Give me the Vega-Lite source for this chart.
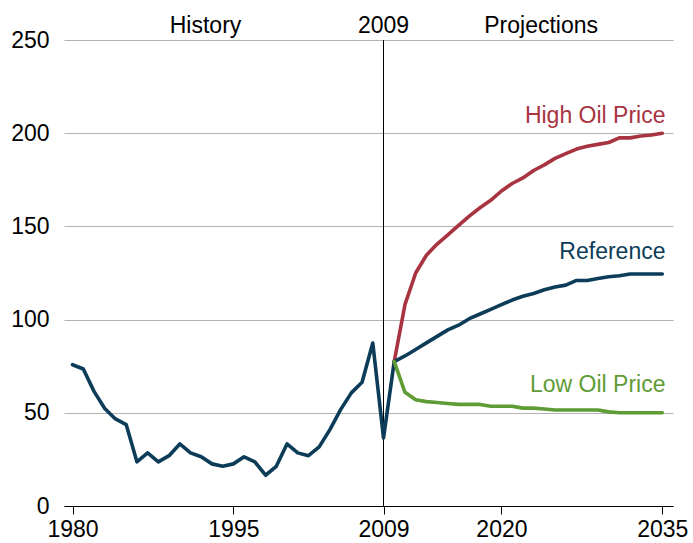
{
  "$schema": "https://vega.github.io/schema/vega-lite/v6.json",
  "width": 609,
  "height": 466,
  "autosize": {"type": "none"},
  "padding": {"left": 64, "top": 40, "right": 20, "bottom": 37},
  "config": {
    "view": {"stroke": null},
    "font": "Liberation Sans",
    "axis": {"labelFont": "Liberation Sans", "labelFontSize": 23, "labelColor": "#000000"}
  },
  "datasets": {
    "prices": [
      {"year": 1980, "series": "History", "price": 75.8},
      {"year": 1981, "series": "History", "price": 73.5},
      {"year": 1982, "series": "History", "price": 61.5},
      {"year": 1983, "series": "History", "price": 52.3},
      {"year": 1984, "series": "History", "price": 46.7},
      {"year": 1985, "series": "History", "price": 43.7},
      {"year": 1986, "series": "History", "price": 23.7},
      {"year": 1987, "series": "History", "price": 28.5},
      {"year": 1988, "series": "History", "price": 23.7},
      {"year": 1989, "series": "History", "price": 27.0},
      {"year": 1990, "series": "History", "price": 33.3},
      {"year": 1991, "series": "History", "price": 28.5},
      {"year": 1992, "series": "History", "price": 26.4},
      {"year": 1993, "series": "History", "price": 22.6},
      {"year": 1994, "series": "History", "price": 21.3},
      {"year": 1995, "series": "History", "price": 22.6},
      {"year": 1996, "series": "History", "price": 26.4},
      {"year": 1997, "series": "History", "price": 23.7},
      {"year": 1998, "series": "History", "price": 16.5},
      {"year": 1999, "series": "History", "price": 21.3},
      {"year": 2000, "series": "History", "price": 33.3},
      {"year": 2001, "series": "History", "price": 28.5},
      {"year": 2002, "series": "History", "price": 27.0},
      {"year": 2003, "series": "History", "price": 31.7},
      {"year": 2004, "series": "History", "price": 41.0},
      {"year": 2005, "series": "History", "price": 51.7},
      {"year": 2006, "series": "History", "price": 60.7},
      {"year": 2007, "series": "History", "price": 66.4},
      {"year": 2008, "series": "History", "price": 87.4},
      {"year": 2009, "series": "History", "price": 36.5},
      {"year": 2010, "series": "History", "price": 77.5},

      {"year": 2010, "series": "High Oil Price", "price": 77.5},
      {"year": 2011, "series": "High Oil Price", "price": 108},
      {"year": 2012, "series": "High Oil Price", "price": 125},
      {"year": 2013, "series": "High Oil Price", "price": 134.5},
      {"year": 2014, "series": "High Oil Price", "price": 140.5},
      {"year": 2015, "series": "High Oil Price", "price": 145.5},
      {"year": 2016, "series": "High Oil Price", "price": 150.5},
      {"year": 2017, "series": "High Oil Price", "price": 155.5},
      {"year": 2018, "series": "High Oil Price", "price": 160},
      {"year": 2019, "series": "High Oil Price", "price": 164},
      {"year": 2020, "series": "High Oil Price", "price": 169},
      {"year": 2021, "series": "High Oil Price", "price": 173},
      {"year": 2022, "series": "High Oil Price", "price": 176},
      {"year": 2023, "series": "High Oil Price", "price": 180},
      {"year": 2024, "series": "High Oil Price", "price": 183},
      {"year": 2025, "series": "High Oil Price", "price": 186.5},
      {"year": 2026, "series": "High Oil Price", "price": 189},
      {"year": 2027, "series": "High Oil Price", "price": 191.5},
      {"year": 2028, "series": "High Oil Price", "price": 193},
      {"year": 2029, "series": "High Oil Price", "price": 194},
      {"year": 2030, "series": "High Oil Price", "price": 195},
      {"year": 2031, "series": "High Oil Price", "price": 197.5},
      {"year": 2032, "series": "High Oil Price", "price": 197.5},
      {"year": 2033, "series": "High Oil Price", "price": 198.5},
      {"year": 2034, "series": "High Oil Price", "price": 199},
      {"year": 2035, "series": "High Oil Price", "price": 200},

      {"year": 2010, "series": "Reference", "price": 77.5},
      {"year": 2011, "series": "Reference", "price": 80.5},
      {"year": 2012, "series": "Reference", "price": 84},
      {"year": 2013, "series": "Reference", "price": 87.5},
      {"year": 2014, "series": "Reference", "price": 91},
      {"year": 2015, "series": "Reference", "price": 94.5},
      {"year": 2016, "series": "Reference", "price": 97},
      {"year": 2017, "series": "Reference", "price": 100.5},
      {"year": 2018, "series": "Reference", "price": 103},
      {"year": 2019, "series": "Reference", "price": 105.5},
      {"year": 2020, "series": "Reference", "price": 108},
      {"year": 2021, "series": "Reference", "price": 110.5},
      {"year": 2022, "series": "Reference", "price": 112.5},
      {"year": 2023, "series": "Reference", "price": 114},
      {"year": 2024, "series": "Reference", "price": 116},
      {"year": 2025, "series": "Reference", "price": 117.5},
      {"year": 2026, "series": "Reference", "price": 118.5},
      {"year": 2027, "series": "Reference", "price": 121},
      {"year": 2028, "series": "Reference", "price": 121},
      {"year": 2029, "series": "Reference", "price": 122},
      {"year": 2030, "series": "Reference", "price": 123},
      {"year": 2031, "series": "Reference", "price": 123.5},
      {"year": 2032, "series": "Reference", "price": 124.5},
      {"year": 2033, "series": "Reference", "price": 124.5},
      {"year": 2034, "series": "Reference", "price": 124.5},
      {"year": 2035, "series": "Reference", "price": 124.5},

      {"year": 2010, "series": "Low Oil Price", "price": 77.5},
      {"year": 2011, "series": "Low Oil Price", "price": 61},
      {"year": 2012, "series": "Low Oil Price", "price": 57},
      {"year": 2013, "series": "Low Oil Price", "price": 56},
      {"year": 2014, "series": "Low Oil Price", "price": 55.5},
      {"year": 2015, "series": "Low Oil Price", "price": 55},
      {"year": 2016, "series": "Low Oil Price", "price": 54.5},
      {"year": 2017, "series": "Low Oil Price", "price": 54.5},
      {"year": 2018, "series": "Low Oil Price", "price": 54.5},
      {"year": 2019, "series": "Low Oil Price", "price": 53.5},
      {"year": 2020, "series": "Low Oil Price", "price": 53.5},
      {"year": 2021, "series": "Low Oil Price", "price": 53.5},
      {"year": 2022, "series": "Low Oil Price", "price": 52.5},
      {"year": 2023, "series": "Low Oil Price", "price": 52.5},
      {"year": 2024, "series": "Low Oil Price", "price": 52},
      {"year": 2025, "series": "Low Oil Price", "price": 51.5},
      {"year": 2026, "series": "Low Oil Price", "price": 51.5},
      {"year": 2027, "series": "Low Oil Price", "price": 51.5},
      {"year": 2028, "series": "Low Oil Price", "price": 51.5},
      {"year": 2029, "series": "Low Oil Price", "price": 51.5},
      {"year": 2030, "series": "Low Oil Price", "price": 50.5},
      {"year": 2031, "series": "Low Oil Price", "price": 50},
      {"year": 2032, "series": "Low Oil Price", "price": 50},
      {"year": 2033, "series": "Low Oil Price", "price": 50},
      {"year": 2034, "series": "Low Oil Price", "price": 50},
      {"year": 2035, "series": "Low Oil Price", "price": 50}
    ],
    "seriesLabels": [
      {"series": "High Oil Price", "year": 2035.3, "price": 205.4},
      {"series": "Reference", "year": 2035.3, "price": 132.5},
      {"series": "Low Oil Price", "year": 2035.3, "price": 61}
    ],
    "periodLabels": [
      {"label": "History", "year": 1992.4, "price": 253.5},
      {"label": "2009", "year": 2009, "price": 253.5},
      {"label": "Projections", "year": 2023.7, "price": 253.5}
    ],
    "divider": [{"year": 2009}]
  },
  "layer": [
    {
      "data": {"name": "divider"},
      "mark": {"type": "rule", "color": "#000000", "strokeWidth": 1},
      "encoding": {
        "x": {
          "field": "year", "type": "quantitative",
          "scale": {"domain": [1979.2, 2036], "nice": false, "zero": false},
          "axis": {
            "values": [1980, 1995, 2009, 2020, 2035],
            "format": "d", "title": null, "grid": false,
            "domainColor": "#000000", "domainWidth": 1.2,
            "tickColor": "#000000", "tickSize": 8, "tickWidth": 1,
            "labelPadding": 4, "labelFlush": false, "labelOverlap": false
          }
        }
      }
    },
    {
      "data": {"name": "prices"},
      "mark": {"type": "line", "strokeWidth": 3.6, "strokeJoin": "round", "strokeCap": "round"},
      "encoding": {
        "x": {"field": "year", "type": "quantitative"},
        "y": {
          "field": "price", "type": "quantitative",
          "scale": {"domain": [0, 250], "nice": false},
          "axis": {
            "values": [0, 50, 100, 150, 200, 250],
            "title": null, "grid": true, "gridColor": "#b3b3b3", "gridWidth": 1,
            "domain": false, "ticks": false, "tickSize": 0, "labelPadding": 15
          }
        },
        "color": {
          "field": "series", "type": "nominal",
          "scale": {
            "domain": ["History", "Reference", "High Oil Price", "Low Oil Price"],
            "range": ["#0c3c58", "#0c3c58", "#a83442", "#5f9c35"]
          },
          "legend": null
        },
        "detail": {"field": "series"}
      }
    },
    {
      "data": {"name": "seriesLabels"},
      "mark": {"type": "text", "align": "right", "baseline": "alphabetic", "fontSize": 23, "font": "Liberation Sans"},
      "encoding": {
        "x": {"field": "year", "type": "quantitative"},
        "y": {"field": "price", "type": "quantitative"},
        "text": {"field": "series"},
        "color": {"field": "series", "type": "nominal", "legend": null}
      }
    },
    {
      "data": {"name": "periodLabels"},
      "mark": {"type": "text", "align": "center", "baseline": "alphabetic", "fontSize": 23, "font": "Liberation Sans", "color": "#000000", "clip": false},
      "encoding": {
        "x": {"field": "year", "type": "quantitative"},
        "y": {"field": "price", "type": "quantitative"},
        "text": {"field": "label"}
      }
    }
  ]
}
